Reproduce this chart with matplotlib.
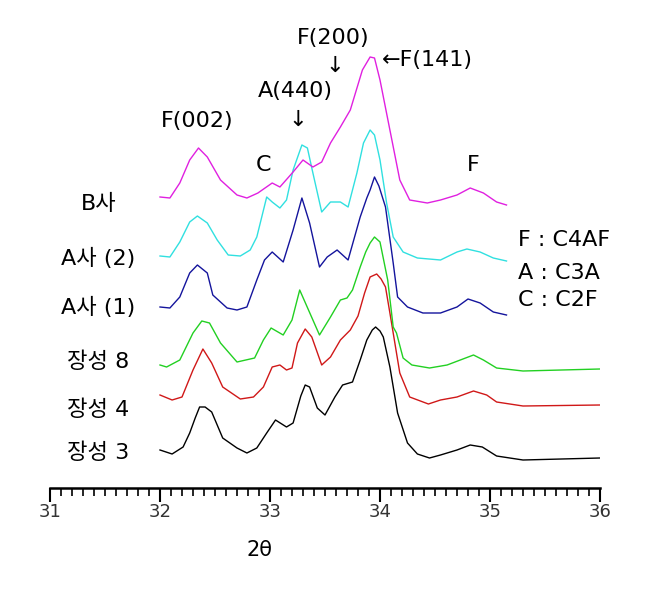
import numpy as np
import matplotlib
matplotlib.use('Agg')
import matplotlib.pyplot as plt
from matplotlib.ticker import MultipleLocator

# Latin text in DejaVu Sans (wide, like the original), Hangul from Noto CJK
plt.rcParams['font.family'] = ['DejaVu Sans', 'Noto Sans CJK KR']

# 2theta / intensity (arbitrary units, stacked)
x_js3 = [32.00, 32.11, 32.21, 32.27, 32.32, 32.36, 32.41, 32.47, 32.57, 32.70, 32.79, 32.88, 32.97, 33.05, 33.15, 33.21,
         33.28, 33.32, 33.36, 33.43, 33.50, 33.59, 33.66, 33.75, 33.82, 33.88, 33.93, 33.96, 34.00, 34.03, 34.09, 34.16,
         34.25, 34.34, 34.45, 34.55, 34.70, 34.82, 34.93, 35.06, 35.30, 36.00]
y_js3 = [38, 34, 41, 55, 70, 81, 81, 76, 50, 40, 35, 40, 55, 68, 61, 65,
         92, 103, 101, 80, 73, 91, 103, 106, 128, 148, 158, 161, 157, 151, 121, 75,
         45, 34, 30, 33, 38, 43, 41, 32, 28, 30]

x_js4 = [32.00, 32.11, 32.20, 32.30, 32.39, 32.47, 32.57, 32.73, 32.85, 32.94, 33.02, 33.09, 33.15, 33.20,
         33.25, 33.32, 33.38, 33.47, 33.55, 33.64, 33.73, 33.80, 33.86, 33.91, 33.97, 34.01, 34.05, 34.09,
         34.12, 34.18, 34.27, 34.44, 34.55, 34.70, 34.85, 34.97, 35.06, 35.30, 36.00]
y_js4 = [93, 88, 91, 118, 139, 125, 101, 89, 91, 101, 121, 123, 118, 120,
         145, 159, 151, 123, 131, 148, 158, 172, 195, 211, 214, 209, 201, 175,
         155, 115, 91, 84, 88, 91, 97, 93, 86, 82, 83]

x_js8 = [32.00, 32.06, 32.18, 32.30, 32.38, 32.45, 32.55, 32.70, 32.86, 32.94, 33.01, 33.12, 33.20, 33.27,
         33.39, 33.45, 33.55, 33.64, 33.70, 33.75, 33.82, 33.87, 33.91, 33.95, 34.00, 34.07, 34.12, 34.15,
         34.21, 34.29, 34.45, 34.61, 34.73, 34.85, 34.94, 35.06, 35.30, 36.00]
y_js8 = [123, 121, 128, 155, 167, 165, 145, 126, 130, 148, 160, 153, 168, 198,
         168, 153, 171, 188, 190, 198, 221, 236, 245, 251, 246, 208, 161, 155,
         130, 123, 120, 123, 128, 133, 128, 120, 117, 119]

x_a1 = [32.00, 32.09, 32.18, 32.27, 32.34, 32.43, 32.48, 32.61, 32.70, 32.79, 32.88, 32.95, 33.02, 33.12,
        33.21, 33.29, 33.36, 33.45, 33.52, 33.61, 33.71, 33.82, 33.88, 33.91, 33.95, 33.99, 34.05, 34.12,
        34.16, 34.25, 34.39, 34.55, 34.70, 34.80, 34.91, 35.03, 35.15]
y_a1 = [181, 180, 191, 215, 223, 215, 193, 180, 178, 181, 208, 228, 236, 226,
        258, 290, 265, 221, 231, 238, 228, 271, 290, 298, 311, 302, 281, 225,
        191, 181, 175, 175, 181, 189, 185, 176, 173]

x_a2 = [32.00, 32.09, 32.18, 32.27, 32.34, 32.43, 32.52, 32.62, 32.73, 32.82, 32.88, 32.97, 33.02, 33.09,
        33.15, 33.21, 33.29, 33.34, 33.39, 33.47, 33.55, 33.64, 33.71, 33.79, 33.85, 33.91, 33.95, 34.00,
        34.06, 34.12, 34.21, 34.34, 34.55, 34.70, 34.79, 34.91, 35.03, 35.15]
y_a2 = [232, 231, 246, 266, 272, 265, 248, 233, 232, 238, 251, 291, 286, 280,
        288, 318, 343, 340, 315, 276, 286, 286, 281, 315, 345, 358, 353, 328,
        285, 251, 236, 230, 228, 236, 239, 236, 230, 227]

x_b = [32.00, 32.09, 32.18, 32.27, 32.35, 32.43, 32.55, 32.70, 32.79, 32.89, 33.02, 33.09, 33.21, 33.30,
       33.39, 33.47, 33.55, 33.64, 33.73, 33.84, 33.91, 33.95, 34.00, 34.09, 34.18, 34.27, 34.43, 34.55,
       34.70, 34.82, 34.94, 35.06, 35.15]
y_b = [291, 290, 305, 328, 340, 331, 308, 293, 290, 295, 305, 301, 316, 328,
       321, 326, 345, 361, 378, 418, 431, 430, 408, 358, 308, 288, 285, 288,
       293, 300, 295, 286, 283]

series = [
    ('장성 3', x_js3, y_js3, 'black'),
    ('장성 4', x_js4, y_js4, '#d01818'),
    ('장성 8', x_js8, y_js8, '#22d022'),
    ('A사 (1)', x_a1, y_a1, '#14149c'),
    ('A사 (2)', x_a2, y_a2, '#30e0e0'),
    ('B사', x_b, y_b, '#e020e0'),
]
# sample labels placed at left, height in same units
label_y = [35, 78, 126, 181, 230, 284]

fig = plt.figure(figsize=(6.52, 6.14), dpi=100)
ax = fig.add_axes([50 / 652, 126 / 614, 550 / 652, 488 / 614])
ax.set_xlim(31, 36)
ax.set_ylim(0, 488)

fs = 16
for (name, xs, ys, c), ly in zip(series, label_y):
    ax.plot(xs, ys, color=c, lw=1.0)
    ax.text(31.44, ly, name, ha='center', va='center', fontsize=fs)

# peak labels
ax.text(32.34, 367, 'F(002)', ha='center', va='center', fontsize=fs)
ax.text(32.94, 323, 'C', ha='center', va='center', fontsize=fs)
ax.text(33.23, 397, 'A(440)', ha='center', va='center', fontsize=fs)
ax.text(33.25, 368, '↓', ha='center', va='center', fontsize=fs)
ax.text(33.57, 450, 'F(200)', ha='center', va='center', fontsize=fs)
ax.text(33.59, 422, '↓', ha='center', va='center', fontsize=fs)
ax.text(34.02, 428, '←F(141)', ha='left', va='center', fontsize=fs)
ax.text(34.85, 323, 'F', ha='center', va='center', fontsize=fs)

ax.text(35.25, 248, 'F : C4AF', ha='left', va='center', fontsize=fs)
ax.text(35.25, 215, 'A : C3A', ha='left', va='center', fontsize=fs)
ax.text(35.25, 188, 'C : C2F', ha='left', va='center', fontsize=fs)

ax.text(32.9, -62, '2θ', ha='center', va='center', fontsize=15)

for s in ['left', 'right', 'top']:
    ax.spines[s].set_visible(False)
ax.spines['bottom'].set_linewidth(1.8)
ax.set_yticks([])
ax.xaxis.set_major_locator(MultipleLocator(1))
ax.xaxis.set_minor_locator(MultipleLocator(0.1))
ax.tick_params(axis='x', which='major', direction='out', length=10, width=1.5, labelsize=13, pad=1,
               labelcolor='#333333')
ax.tick_params(axis='x', which='minor', direction='out', length=6, width=1.2)
ax.patch.set_visible(False)

fig.savefig('out.png', dpi=100)
